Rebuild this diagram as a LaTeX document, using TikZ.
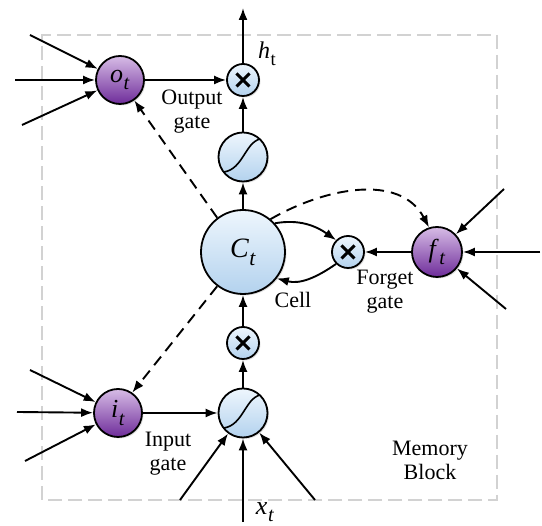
\documentclass[tikz,border=0pt]{standalone}
\usepackage{fontspec}
\usepackage{graphicx}
\setmainfont{Liberation Serif}
\usetikzlibrary{arrows.meta,shadows,calc}
\definecolor{gtop}{HTML}{D7BCE6}
\definecolor{gbot}{HTML}{6E2C9A}
\definecolor{btop}{HTML}{EEF6FD}
\definecolor{bbot}{HTML}{B3D2EE}
\newcommand{\vs}[2]{\textit{#1}\kern0.5pt\raisebox{-0.28em}{\scalebox{0.78}{#2}}}
\tikzset{
  arr/.style={line width=1.9pt,-{Latex[length=12pt,width=9pt]}},
  darr/.style={arr,dash pattern=on 11pt off 7pt},
  gatenode/.style={circle,draw,line width=1.8pt,top color=gtop,bottom color=gbot,minimum size=48pt,inner sep=0pt,font=\fontsize{26}{28}\selectfont,drop shadow={opacity=0.25,shadow xshift=1.5pt,shadow yshift=-1.5pt}},
  bluenode/.style={circle,draw,line width=1.8pt,top color=btop,bottom color=bbot,inner sep=0pt,drop shadow={opacity=0.25,shadow xshift=1.5pt,shadow yshift=-1.5pt}},
  mulnode/.style={bluenode,minimum size=32pt},
  signode/.style={bluenode,minimum size=49pt},
  lbl/.style={font=\fontsize{22}{24}\selectfont,align=center},
}
\newcommand{\mycross}[1]{\draw[line width=3pt] ($(#1.center)+(-6.5,-6.5)$) -- ($(#1.center)+(6.5,6.5)$) ($(#1.center)+(-6.5,6.5)$) -- ($(#1.center)+(6.5,-6.5)$);}
\newcommand{\mysig}[1]{\draw[line width=1.6pt] ($(#1.center)+(-19,-15)$) .. controls ($(#1.center)+(0,-12)$) and ($(#1.center)+(2,14)$) .. ($(#1.center)+(17,18)$);}
\begin{document}
\begin{tikzpicture}[x=1pt,y=1pt]
\useasboundingbox (0,0) rectangle (542,526);
% memory block
\draw[gray!35,line width=2.2pt,dash pattern=on 14pt off 6pt] (42,26) rectangle (497,491);
% nodes
\node[gatenode] (o) at (120,446) {\vs{o}{\textit{t}}};
\node[mulnode] (mo) at (243,446) {};
\node[signode] (s1) at (243,369) {};
\node[bluenode,minimum size=84pt,font=\fontsize{28}{30}\selectfont] (C) at (243,274) {\vs{C}{\textit{t}}};
\node[mulnode] (mf) at (348,274) {};
\node[gatenode,minimum size=50pt] (f) at (437,274) {\vs{f}{\textit{t}}};
\node[mulnode] (mi) at (243,183) {};
\node[signode] (s2) at (243,113) {};
\node[gatenode] (i) at (118,113) {\vs{i}{\textit{t}}};
\mycross{mo}\mycross{mf}\mycross{mi}
\mysig{s1}\mysig{s2}
% free ends
\coordinate (top) at (243,518);
\coordinate (oa) at (30,491);
\coordinate (ob) at (15,446);
\coordinate (oc) at (22,401);
\coordinate (ia) at (30,156);
\coordinate (ib) at (17,114);
\coordinate (ic) at (25,65);
\coordinate (fa) at (504,337);
\coordinate (fb) at (540,274);
\coordinate (fc) at (506,217);
\coordinate (sa) at (180,26);
\coordinate (sb) at (243,4);
\coordinate (sc) at (315,26);
% connectors
\draw[arr] (mo) -- (top);
\draw[arr] (o) -- (mo);
\draw[arr] (s1) -- (mo);
\draw[arr] (C) -- (s1);
\draw[arr] (mi) -- (C);
\draw[arr] (s2) -- (mi);
\draw[arr] (i) -- (s2);
\draw[arr] (f) -- (mf);
\draw[arr] (oa) -- (o);
\draw[arr] (ob) -- (o);
\draw[arr] (oc) -- (o);
\draw[arr] (ia) -- (i);
\draw[arr] (ib) -- (i);
\draw[arr] (ic) -- (i);
\draw[arr] (fa) -- (f);
\draw[arr] (fb) -- (f);
\draw[arr] (fc) -- (f);
\draw[arr] (sa) -- (s2);
\draw[arr] (sb) -- (s2);
\draw[arr] (sc) -- (s2);
\draw[darr] (C.127) -- (o.-55);
\draw[darr] (C.233) -- (i.55);
\draw[darr] (C.50) to[out=30,in=118] (f.108);
\draw[arr] (C.42) to[out=10,in=145] (mf.135);
\draw[arr] (mf.225) to[out=215,in=-15] (C.-38);
% labels
\node[lbl] (lo) at (192,414) {Output\\gate};
\node[lbl] (lc) at (293,226) {Cell};
\node[lbl] (lf) at (385,234) {Forget\\gate};
\node[lbl] (li) at (168,72) {Input\\gate};
\node[lbl] (lm) at (430,66) {Memory\\Block};
\node[font=\fontsize{24}{26}\selectfont] (ht) at (267,472) {\vs{h}{t}};
\node[font=\fontsize{26}{28}\selectfont] (xt) at (265,14) {\vs{x}{\textit{t}}};
\end{tikzpicture}
\end{document}
